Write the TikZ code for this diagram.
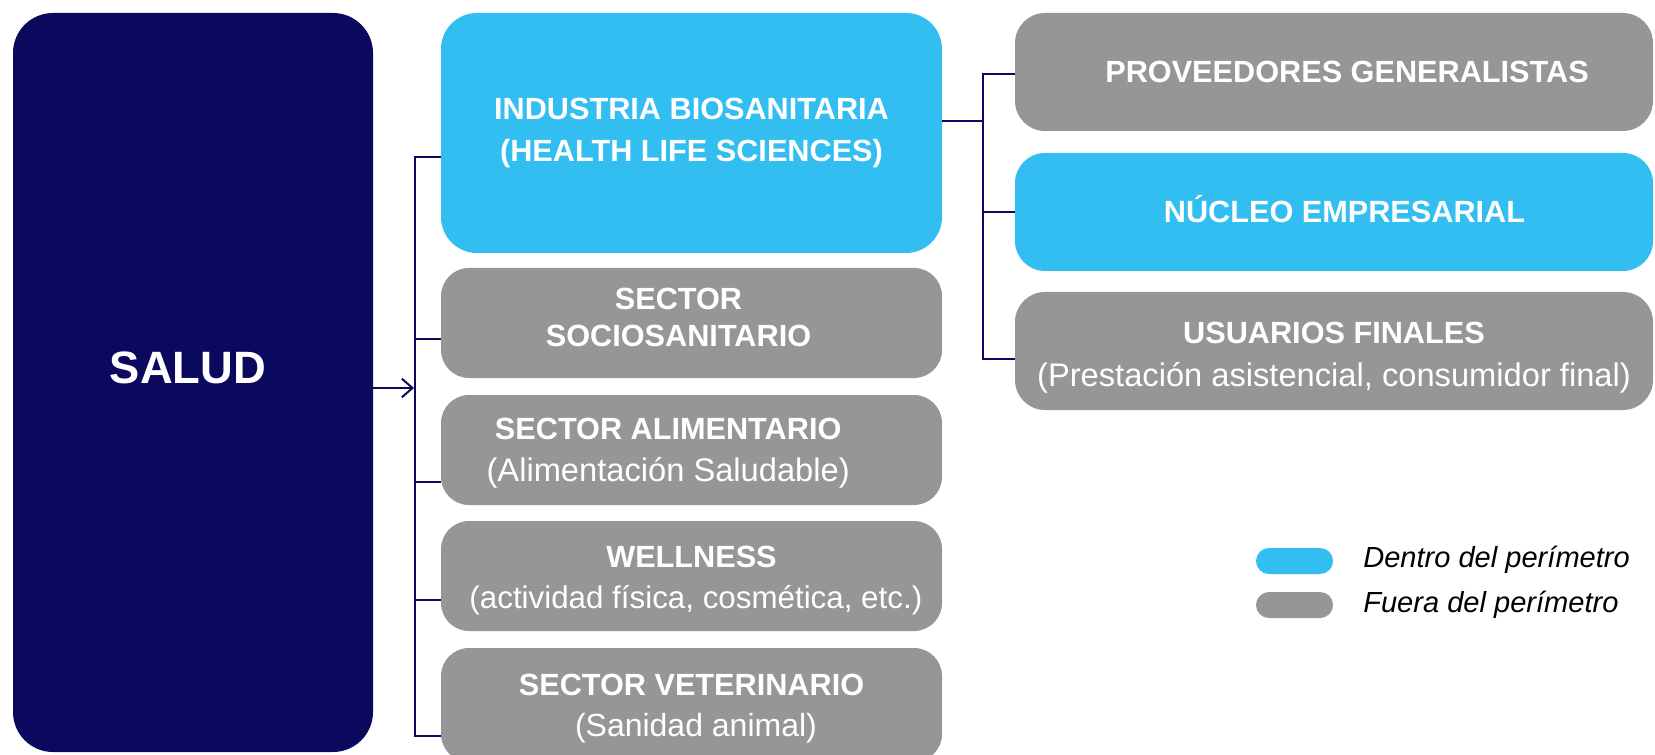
\documentclass[tikz,border=0pt]{standalone}
\usepackage{fontspec}
\setmainfont{Liberation Sans}
\usetikzlibrary{arrows.meta}
\definecolor{navyc}{HTML}{0B095E}
\definecolor{cyanc}{HTML}{33BEF1}
\definecolor{grayc}{HTML}{969696}
\newcommand\subl{\fontsize{24.5}{31}\selectfont\mdseries}
\newcommand\subs[1]{\fontsize{#1}{31}\selectfont\mdseries}
\newcommand\padR[1]{\hspace*{#1}\mbox{}}
\newcommand\padL[1]{\mbox{}\hspace*{#1}}
\newcommand\dep[1]{\rule[-#1]{0pt}{#1}}
\newcommand\hgt[1]{\rule{0pt}{#1}}
\begin{document}
\begin{tikzpicture}[x=0.75pt, y=-0.75pt,
  blk/.style={rectangle, inner sep=0pt, align=center, text=white,
    font=\fontsize{23}{31}\selectfont\bfseries},
  leftbox/.style={blk, minimum width=375.75pt, minimum height=82.5pt, rounded corners=21pt},
  rightbox/.style={blk, minimum width=478.5pt, minimum height=88.5pt, rounded corners=22.5pt},
  conn/.style={draw=navyc, line width=1.5pt},
  pill/.style={rectangle, inner sep=0pt, minimum width=57.75pt, minimum height=19.5pt, rounded corners=9.75pt},
  legtext/.style={inner sep=0pt, anchor=base west, text=black, font=\fontsize{21.8}{26}\selectfont\itshape}]
\useasboundingbox (0,0) rectangle (1655,755);

% main block
\node[blk, fill=navyc, minimum width=270pt, minimum height=554.25pt, rounded corners=30pt,
  font=\fontsize{34}{40}\selectfont\bfseries] (salud) at (193,382.5) {SALUD\padR{7.5pt}\dep{22pt}};

% left column
\node[leftbox, fill=cyanc, minimum height=180pt, rounded corners=27pt,
  font=\fontsize{23}{31.5}\selectfont\bfseries] (ind) at (691.5,133)
  {INDUSTRIA BIOSANITARIA\\(HEALTH LIFE SCIENCES)};
\node[leftbox, fill=grayc, font=\fontsize{23}{27.75}\selectfont\bfseries] (soc) at (691.5,323)
  {SECTOR\padR{19.5pt}\\SOCIOSANITARIO\padR{19.5pt}\dep{8.25pt}};
\node[leftbox, fill=grayc] (ali) at (691.5,450)
  {\hgt{21pt}SECTOR ALIMENTARIO\padR{35pt}\\{\subl (Alimentación Saludable)}\padR{35pt}};
\node[leftbox, fill=grayc] (wel) at (691.5,576)
  {\hgt{23pt}WELLNESS\\{\subs{23.5} (actividad física, cosmética, etc.)}};
\node[leftbox, fill=grayc, minimum height=85.5pt] (vet) at (691.5,705)
  {\hgt{21pt}SECTOR VETERINARIO\\{\subs{24} (Sanidad animal)}};

% right column
\node[rightbox, fill=grayc] (prov) at (1334,72) {\padL{19.5pt}PROVEEDORES GENERALISTAS};
\node[rightbox, fill=cyanc] (nuc) at (1334,212) {\padL{15.75pt}N\smash{Ú}CLEO EMPRESARIAL};
\node[rightbox, fill=grayc, font=\fontsize{23}{32.25}\selectfont\bfseries] (usu) at (1334,351)
  {\hgt{25.5pt}USUARIOS FINALES\\{\subl (Prestación asistencial, consumidor final)}};

% left bracket
\coordinate (lt) at (415,157);
\coordinate (ls) at (415,339);
\coordinate (la) at (415,482);
\coordinate (lw) at (415,600);
\coordinate (lv) at (415,736);
\coordinate (arr) at (414,388);
\draw[conn] (lt -| ind.west) -- (lt) -- (lv) -- (lv -| vet.west);
\draw[conn] (ls) -- (ls -| soc.west);
\draw[conn] (la) -- (la -| ali.west);
\draw[conn] (lw) -- (lw -| wel.west);
\draw[conn, -{Straight Barb[length=8pt,width=14pt]}] (salud.east |- arr) -- (arr);

% right bracket
\coordinate (rh) at (983,121);
\coordinate (rp) at (983,74);
\coordinate (rn) at (983,212);
\coordinate (ru) at (983,359);
\draw[conn] (ind.east |- rh) -- (rh);
\draw[conn] (rp -| prov.west) -- (rp) -- (ru) -- (ru -| usu.west);
\draw[conn] (rn) -- (rn -| nuc.west);

% legend
\node[pill, fill=cyanc] (lgin) at (1294.5,561) {};
\node[pill, fill=grayc] (lgout) at (1294.5,605) {};
\node[legtext] (lgintxt) at (1363,567) {Dentro del perímetro};
\node[legtext] (lgouttxt) at (1363,612) {Fuera del perímetro};
\end{tikzpicture}
\end{document}
